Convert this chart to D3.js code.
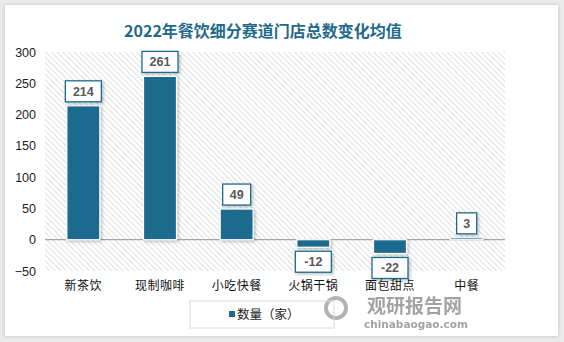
<!DOCTYPE html>
<html><head><meta charset="utf-8">
<script src="https://cdn.jsdelivr.net/npm/d3@7"></script>
<style>
html,body{margin:0;padding:0;background:#ebebeb;}
svg{display:block;}
</style></head>
<body>
<svg id="c" width="564" height="342"></svg>
<script>
const title = "2022年餐饮细分赛道门店总数变化均值";
const categories = ["新茶饮","现制咖啡","小吃快餐","火锅干锅","面包甜点","中餐"];
const values = [214,261,49,-12,-22,3];
const yTicks = [-50,0,50,100,150,200,250,300];
const seriesName = "数量（家）";

const svg = d3.select("#c");
const defs = svg.append("defs");
const pat = defs.append("pattern").attr("id","hatch").attr("patternUnits","userSpaceOnUse")
  .attr("width",4).attr("height",4).attr("patternTransform","rotate(45)");
pat.append("rect").attr("width",4).attr("height",4).attr("fill","#fff");
pat.append("line").attr("x1",0).attr("y1",0).attr("x2",4).attr("y2",0)
  .attr("stroke","#cccccc").attr("stroke-width",1.2);
const f = defs.append("filter").attr("id","sh").attr("x","-30%").attr("y","-30%").attr("width","160%").attr("height","160%");
f.append("feDropShadow").attr("dx",1.5).attr("dy",1.5).attr("stdDeviation",1.5).attr("flood-color","#000").attr("flood-opacity",0.25);
const f2 = defs.append("filter").attr("id","card").attr("x","-5%").attr("y","-5%").attr("width","110%").attr("height","110%");
f2.append("feDropShadow").attr("dx",0).attr("dy",0).attr("stdDeviation",2).attr("flood-color","#000").attr("flood-opacity",0.18);

svg.append("rect").attr("x",5).attr("y",5).attr("width",553).attr("height",331).attr("fill","#fff").attr("filter","url(#card)");

svg.append("text").attr("x",263).attr("y",37).attr("text-anchor","middle")
  .attr("font-family","Noto Sans CJK SC").attr("font-weight","bold").attr("font-size",16)
  .attr("fill","#1f6a8a").text(title);

const L=45,R=505,T=52,B=271;
const x = d3.scaleBand().domain(categories).range([L,R]).paddingInner(0.57).paddingOuter(0.285);
const y = d3.scaleLinear().domain([-50,300]).range([B,T]);

svg.append("rect").attr("x",L).attr("y",T).attr("width",R-L).attr("height",B-T).attr("fill","url(#hatch)");

const yAxis = svg.append("g").attr("transform",`translate(${L},0)`)
  .call(d3.axisLeft(y).tickValues(yTicks).tickSize(0).tickPadding(9));
yAxis.select(".domain").remove();
yAxis.selectAll("text").attr("font-family","Liberation Sans, Arial").attr("font-size",12.5).attr("fill","#222");

svg.append("line").attr("x1",L).attr("x2",R).attr("y1",y(0)).attr("y2",y(0)).attr("stroke","#a6a6a6").attr("stroke-width",1.2);

svg.append("g").selectAll("rect").data(values).join("rect")
  .attr("x",(d,i)=>x(categories[i]))
  .attr("width",x.bandwidth())
  .attr("y",d=>y(Math.max(0,d)))
  .attr("height",d=>Math.abs(y(d)-y(0)))
  .attr("fill","#1e6b8e").attr("stroke","#fff").attr("stroke-width",1.2)
  .attr("filter","url(#sh)");

const lbl = svg.append("g").selectAll("g").data(values).join("g")
  .attr("transform",(d,i)=>{
    const cx = x(categories[i])+x.bandwidth()/2;
    const cy = d>=0 ? y(d)-4-10.5 : y(d)+4+10.5;
    return `translate(${cx},${cy})`;
  });
lbl.append("rect").attr("x",d=>-(String(d).length*4+6)).attr("y",-10.5)
  .attr("width",d=>String(d).length*8+12).attr("height",21)
  .attr("fill","#fff").attr("stroke","#1e6b8e").attr("stroke-width",1.3).attr("filter","url(#sh)");
lbl.append("text").attr("text-anchor","middle").attr("dy","0.36em")
  .attr("font-family","Liberation Sans, Arial").attr("font-weight","bold").attr("font-size",12.5)
  .attr("fill","#595959").text(d=>d);

// watermark
const wm = svg.append("g").attr("opacity",0.8);
wm.append("circle").attr("cx",336).attr("cy",308).attr("r",10).attr("fill","none").attr("stroke","#a0a0a0").attr("stroke-width",4);
wm.append("text").attr("x",367).attr("y",313).attr("font-family","Noto Sans CJK SC").attr("font-weight","bold")
  .attr("font-size",19).attr("fill","#8c8c8c").text("观研报告网");
wm.append("text").attr("x",364).attr("y",327.5).attr("font-family","DejaVu Sans").attr("font-weight","bold").attr("font-size",10.5)
  .attr("fill","#8c8c8c").text("chinabaogao.com");

const xAxis = svg.append("g").attr("transform",`translate(0,${B})`)
  .call(d3.axisBottom(x).tickSize(0).tickPadding(10));
xAxis.select(".domain").remove();
xAxis.selectAll("text").attr("font-family","Noto Sans CJK SC").attr("font-size",12).attr("fill","#111").attr("letter-spacing","0.5px");

// legend
const lg = svg.append("g");
lg.append("rect").attr("x",190).attr("y",301).attr("width",144).attr("height",27).attr("fill","none").attr("stroke","#d9d9d9");
lg.append("rect").attr("x",229).attr("y",311).attr("width",6).attr("height",6).attr("fill","#1e6b8e");
lg.append("text").attr("x",237).attr("y",318.5).attr("font-family","Noto Sans CJK SC").attr("font-size",12.5)
  .attr("fill","#222").text(seriesName);
</script>
</body></html>
